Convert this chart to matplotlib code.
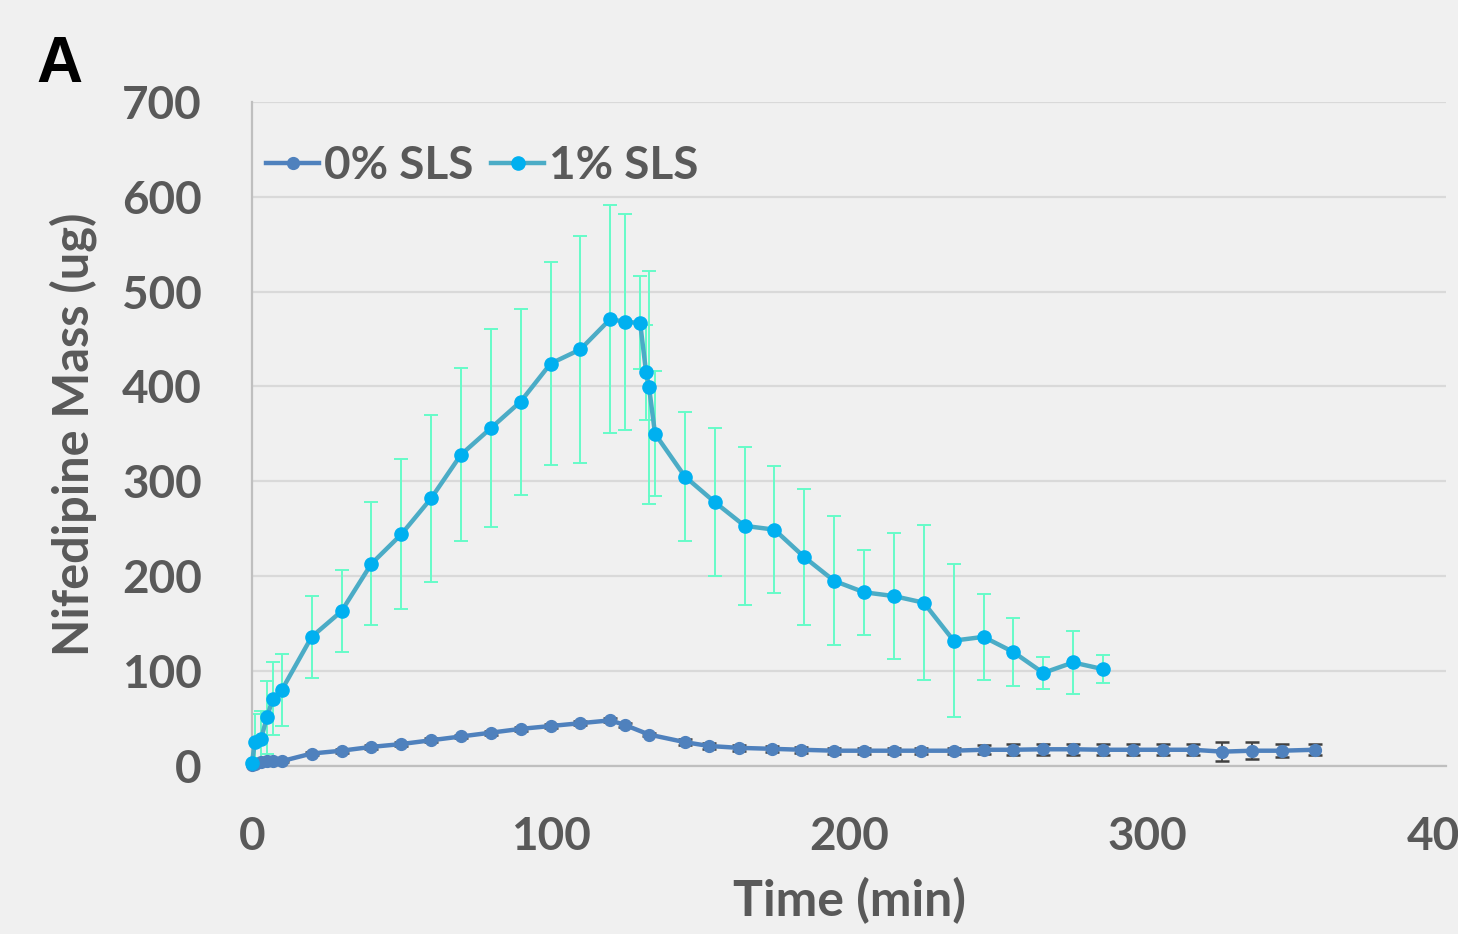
"""Nifedipine mass vs time, 0% and 1% SLS, with error bars."""

import matplotlib

matplotlib.use("Agg")
import matplotlib.pyplot as plt
import numpy as np

# 1% SLS
t_sls1 = [0, 1, 3, 5, 7, 10, 20, 30, 40, 50, 60, 70, 80, 90, 100, 110, 120, 125,
          130, 132, 133, 135, 145, 155, 165, 175, 185, 195, 205, 215, 225, 235,
          245, 255, 265, 275, 285]
m_sls1 = [3, 25, 28, 51, 71, 80, 136, 163, 213, 244, 282, 328, 356, 384, 424, 439,
          471, 468, 467, 415, 399, 350, 305, 278, 253, 249, 220, 195, 183, 179,
          172, 132, 136, 120, 98, 109, 102]
e_sls1 = [5, 30, 30, 38, 38, 38, 43, 43, 65, 79, 88, 91, 104, 98, 107, 120, 120,
          114, 49, 50, 123, 66, 68, 78, 83, 67, 72, 68, 45, 66, 82, 81, 45, 36,
          17, 33, 15]

# 0% SLS
t_sls0 = [0, 1, 3, 5, 7, 10, 20, 30, 40, 50, 60, 70, 80, 90, 100, 110, 120, 125,
          133, 145, 153, 163, 174, 184, 195, 205, 215, 224, 235, 245, 255, 265,
          275, 285, 295, 305, 315, 325, 335, 345, 356]
m_sls0 = [1, 2, 4, 5, 5, 5, 13, 16, 20, 23, 27, 31, 35, 39, 42, 45, 48, 43, 33,
          25, 21, 19, 18, 17, 16, 16, 16, 16, 16, 17, 17, 17.5, 17.5, 17, 17, 17,
          17, 15, 16, 16, 17]
e_sls0 = [1, 1, 1, 1, 1, 1, 2, 2, 2, 2, 2, 2, 2, 2, 2, 2, 2, 2, 2, 3, 3, 3, 3,
          3, 3, 3, 3, 3, 3, 5, 6, 6, 6, 6, 6, 6, 6, 10, 9, 7, 6]

LABEL_GRAY = "#595959"
BG = "#F0F0F0"


def main():
    plt.rcParams["font.family"] = ["Lato", "DejaVu Sans"]
    fig = plt.figure(figsize=(14.58, 9.34), dpi=100, facecolor=BG)
    ax = fig.add_axes([0.1728, 0.180, 0.8192, 0.711], facecolor=BG)

    # error bars first so the lines sit on top
    ax.errorbar(t_sls1, m_sls1, yerr=e_sls1, fmt="none", ecolor="#66FCC8",
                elinewidth=1.4, capsize=5, capthick=1.4, zorder=2)
    ax.errorbar(t_sls0, m_sls0, yerr=e_sls0, fmt="none", ecolor="#404040",
                elinewidth=1.3, capsize=5, capthick=1.8, zorder=2)

    ax.plot(t_sls0, m_sls0, color="#4F81BD", lw=3.2, marker="o", ms=8.5,
            mfc="#4F81BD", mec="#4F81BD", label="0% SLS", zorder=3,
            clip_on=False)
    ax.plot(t_sls1, m_sls1, color="#4BACC6", lw=3.2, marker="o", ms=9.5,
            mfc="#00B0F0", mec="#00B0F0", label="1% SLS", zorder=4,
            clip_on=False)

    ax.set_xlim(0, 400)
    ax.set_ylim(0, 700)
    ax.set_xticks(np.arange(0, 401, 100))
    ax.set_yticks(np.arange(0, 701, 100))
    ax.yaxis.grid(True, color="#D9D9D9", lw=1.6)
    ax.set_axisbelow(True)
    for s in ("top", "right"):
        ax.spines[s].set_visible(False)
    ax.spines["left"].set_color("#BFBFBF")
    ax.spines["bottom"].set_color("#BFBFBF")
    ax.spines["left"].set_linewidth(1.6)
    ax.spines["bottom"].set_linewidth(1.6)

    ax.tick_params(length=0, labelsize=33, labelcolor=LABEL_GRAY)
    ax.tick_params(axis="y", pad=36)
    ax.tick_params(axis="x", pad=36)
    for lab in ax.get_xticklabels() + ax.get_yticklabels():
        lab.set_fontweight("bold")

    ax.set_xlabel("Time (min)", fontsize=36, fontweight="bold",
                  color=LABEL_GRAY, labelpad=14)
    ax.set_ylabel("Nifedipine Mass (ug)", fontsize=35, fontweight="bold",
                  color=LABEL_GRAY, labelpad=18)

    leg = ax.legend(loc="upper left", bbox_to_anchor=(-0.011, 0.976), ncol=2,
                    frameon=False, fontsize=33, handlelength=1.15,
                    handletextpad=0.1, columnspacing=0.4, borderaxespad=0.2)
    for txt in leg.get_texts():
        txt.set_fontweight("bold")
        txt.set_color(LABEL_GRAY)

    fig.text(0.025, 0.912, "A", fontsize=46, fontweight="bold", color="black",
             family=["Liberation Sans", "DejaVu Sans"], va="baseline")

    fig.savefig("out.png", dpi=100, facecolor=BG)
    plt.close(fig)


if __name__ == "__main__":
    main()
